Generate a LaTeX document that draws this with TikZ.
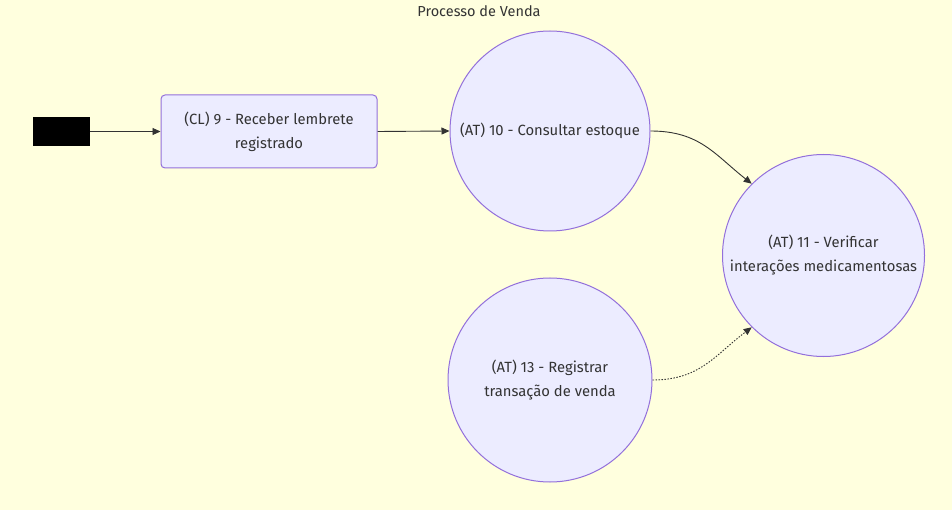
\documentclass[tikz,border=0pt]{standalone}
\usepackage{fontspec}
\setmainfont{Fira Sans}
\usetikzlibrary{arrows.meta}
\definecolor{bgc}{HTML}{FFFFDE}
\definecolor{nodefill}{HTML}{ECECFF}
\definecolor{nodeline}{HTML}{9370DB}
\definecolor{edgec}{HTML}{333333}
\definecolor{txt}{HTML}{333333}
\tikzset{
  proc/.style={draw=nodeline, fill=nodefill, line width=1pt, text=txt, font=\fontsize{14.8}{24}\selectfont, align=center},
  boxnode/.style={proc, rectangle, rounded corners=4pt, minimum width=216pt, minimum height=73pt, inner sep=0pt},
  circnode/.style={proc, circle, inner sep=0pt},
  edge/.style={draw=edgec, line width=0.9pt, -{Triangle[length=8pt,width=7pt]}},
}
\begin{document}
\begin{tikzpicture}[x=1pt,y=-1pt]
\fill[bgc] (0,0) rectangle (952,510);
\useasboundingbox (0,0) rectangle (952,510);
\node[text=txt, font=\fontsize{14.5}{17}\selectfont] (title) at (479,11) {Processo de Venda};
\node[fill=black, minimum width=57pt, minimum height=29pt, inner sep=0pt] (start) at (61.5,131.5) {};
\node[boxnode] (n9) at (269,131.5) {(CL) 9 - Receber lembrete\\registrado};
\node[circnode, minimum size=200pt] (n10) at (550,131) {(AT) 10 - Consultar estoque};
\node[circnode, minimum size=202pt] (n11) at (823.5,255.5) {(AT) 11 - Verificar\\interações medicamentosas};
\node[circnode, minimum size=204pt] (n13) at (550,380) {(AT) 13 - Registrar\\transação de venda};
\draw[edge] (start) -- (n9);
\draw[edge] (n9.east) -- (n10.west);
\draw[edge] (n10.east) .. controls (700,131) and (715,155) .. (n11.135);
\draw[edge, dash pattern=on 1.5pt off 1.5pt] (n13.east) .. controls (700,380) and (715,355) .. (n11.225);
\end{tikzpicture}
\end{document}
